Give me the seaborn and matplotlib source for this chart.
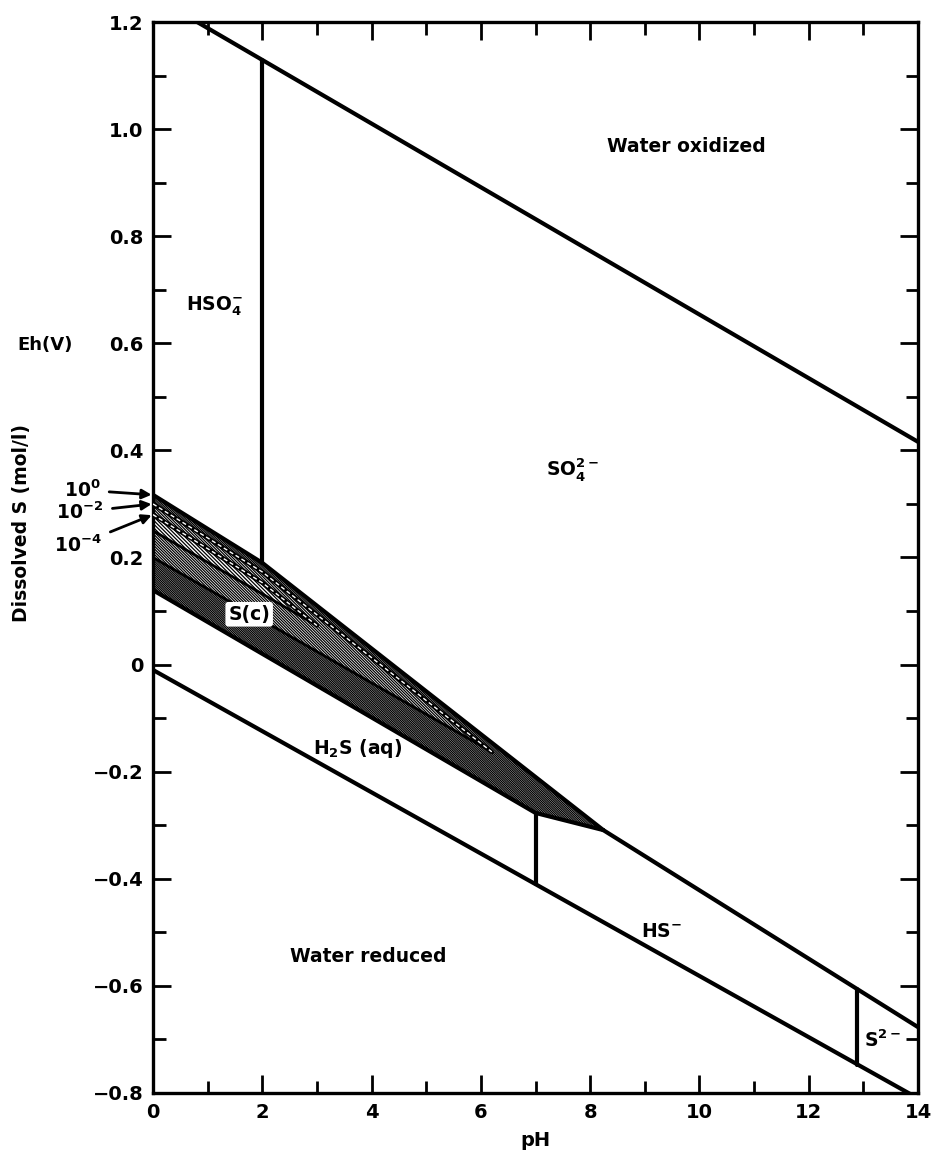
import matplotlib
matplotlib.use("Agg")
import matplotlib.pyplot as plt
import seaborn as sns

# water stability limits
UPPER_WATER_PH = [0.0, 14.0]
UPPER_WATER_EH = [1.248, 0.416]
LOWER_WATER_PH = [0.0, 14.0]
LOWER_WATER_EH = [-0.010, -0.810]

# boundaries between aqueous sulfur species
HSO4_SO4_PH = [2.0, 2.0]
HSO4_SO4_EH = [0.190, 1.129]
H2S_HS_PH = [7.0, 7.0]
H2S_HS_EH = [-0.410, -0.277]
HS_S2_PH = [12.88, 12.88]
HS_S2_EH = [-0.747, -0.605]
SO4_HS_PH = [8.24, 14.0]
SO4_HS_EH = [-0.309, -0.677]

# S(c) field for dissolved S = 10^0, 10^-2, 10^-4 mol/l
SC0_TOP_PH = [0.0, 2.0, 8.24]
SC0_TOP_EH = [0.317, 0.190, -0.309]
SC0_BOT_PH = [0.0, 7.0, 8.24]
SC0_BOT_EH = [0.139, -0.277, -0.309]
SC2_TOP_PH = [0.0, 2.0, 6.2]
SC2_TOP_EH = [0.300, 0.173, -0.163]
SC2_BOT_PH = [0.0, 6.2]
SC2_BOT_EH = [0.200, -0.163]
SC4_TOP_PH = [0.0, 2.0, 3.0]
SC4_TOP_EH = [0.280, 0.153, 0.073]
SC4_BOT_PH = [0.0, 3.0]
SC4_BOT_EH = [0.250, 0.073]

FIELD_LABELS = ["Water oxidized", "HSO$_4^{-}$", "SO$_4^{2-}$", "S(c)",
                "H$_2$S (aq)", "HS$^{-}$", "S$^{2-}$", "Water reduced"]
FIELD_PH = [9.77, 1.13, 7.67, 1.76, 3.74, 9.31, 13.36, 3.94]
FIELD_EH = [0.967, 0.670, 0.365, 0.094, -0.156, -0.499, -0.701, -0.546]

CONC_LABELS = ["10$^{0}$", "10$^{-2}$", "10$^{-4}$"]
CONC_EH = [0.317, 0.300, 0.280]

X_TICKS = [0, 2, 4, 6, 8, 10, 12, 14]
Y_TICKS = [-0.8, -0.6, -0.4, -0.2, 0.0, 0.2, 0.4, 0.6, 0.8, 1.0, 1.2]
Y_TICK_LABELS = ["\u22120.8", "\u22120.6", "\u22120.4", "\u22120.2", "0",
                 "0.2", "0.4", "0.6", "0.8", "1.0", "1.2"]

W, H = 931, 1153


def polygon(top_ph, top_eh, bot_ph, bot_eh):
    return top_ph + bot_ph[::-1], top_eh + bot_eh[::-1]


def main():
    sns.set_theme(style="ticks")
    plt.rcParams["font.family"] = ["DejaVu Sans"]
    plt.rcParams["font.weight"] = "bold"
    plt.rcParams["text.color"] = "black"
    plt.rcParams["axes.labelcolor"] = "black"
    plt.rcParams["mathtext.fontset"] = "dejavusans"
    plt.rcParams["mathtext.default"] = "bf"
    plt.rcParams["hatch.linewidth"] = 0.9

    fig = plt.figure(figsize=(W / 100, H / 100), dpi=100)
    ax = fig.add_axes([153 / W, 1 - 1093 / H, (918 - 153) / W, (1093 - 22) / H])

    # hatched S(c) fields, densest where only 10^0 is stable
    for (tp, te, bp, be), hatch in [
        ((SC0_TOP_PH, SC0_TOP_EH, SC0_BOT_PH, SC0_BOT_EH), "\\" * 15),
        ((SC2_TOP_PH, SC2_TOP_EH, SC2_BOT_PH, SC2_BOT_EH), "\\" * 12),
        ((SC4_TOP_PH, SC4_TOP_EH, SC4_BOT_PH, SC4_BOT_EH), "\\" * 9),
    ]:
        px, py = polygon(tp, te, bp, be)
        ax.fill(px, py, facecolor="white", edgecolor="black", hatch=hatch,
                linewidth=0, zorder=1)

    line_kw = dict(ax=ax, color="black", sort=False, estimator=None, legend=False)
    for xs, ys in [(UPPER_WATER_PH, UPPER_WATER_EH), (LOWER_WATER_PH, LOWER_WATER_EH),
                   (HSO4_SO4_PH, HSO4_SO4_EH), (H2S_HS_PH, H2S_HS_EH),
                   (HS_S2_PH, HS_S2_EH), (SO4_HS_PH, SO4_HS_EH),
                   (SC0_TOP_PH, SC0_TOP_EH), (SC0_BOT_PH, SC0_BOT_EH)]:
        sns.lineplot(x=xs, y=ys, linewidth=3.0, zorder=3, **line_kw)

    # inner boundaries for the lower concentrations
    for xs, ys in [(SC2_TOP_PH, SC2_TOP_EH), (SC4_TOP_PH, SC4_TOP_EH)]:
        sns.lineplot(x=xs, y=ys, linewidth=3.2, zorder=3, **line_kw)
        ax.plot(xs, ys, color="white", linewidth=1.0, dashes=(3, 2), zorder=4)
    for xs, ys in [(SC2_BOT_PH, SC2_BOT_EH), (SC4_BOT_PH, SC4_BOT_EH)]:
        sns.lineplot(x=xs, y=ys, linewidth=2.0, zorder=3, **line_kw)

    for text, ph, eh in zip(FIELD_LABELS, FIELD_PH, FIELD_EH):
        kw = {}
        if text == "S(c)":
            kw["bbox"] = dict(boxstyle="round,pad=0.15", facecolor="white",
                              edgecolor="none")
        ax.text(ph, eh, text, ha="center", va="center", fontsize=13.5,
                fontweight="bold", color="black", zorder=5, **kw)

    ax.set_xlim(0, 14)
    ax.set_ylim(-0.8, 1.2)
    ax.set_xticks(X_TICKS)
    ax.set_xticklabels([str(t) for t in X_TICKS])
    ax.set_xticks(range(0, 15), minor=True)
    ax.set_yticks(Y_TICKS)
    ax.set_yticklabels(Y_TICK_LABELS)
    ax.set_yticks([v / 10 for v in range(-8, 13)], minor=True)
    ax.tick_params(which="both", direction="in", top=True, right=True,
                   width=2.0, labelsize=14, pad=7, colors="black")
    ax.tick_params(which="major", length=13)
    ax.tick_params(which="minor", length=9)
    for s in ax.spines.values():
        s.set_linewidth(2.4)
        s.set_color("black")
    for lab in ax.get_xticklabels() + ax.get_yticklabels():
        lab.set_fontweight("bold")

    ax.set_xlabel("pH", fontsize=14, fontweight="bold", labelpad=7)
    ax.set_ylabel("")
    fig.text(45 / W, 1 - 345 / H, "Eh(V)", ha="center", va="center",
             fontsize=13, fontweight="bold")
    fig.text(22 / W, 1 - 523 / H, "Dissolved S (mol/l)", ha="center", va="center",
             rotation=90, fontsize=13.5, fontweight="bold")

    # concentration labels pointing at the S(c) upper boundaries
    text_pos = [(82, 490), (80, 512), (78, 545)]
    for text, eh, (tx, ty) in zip(CONC_LABELS, CONC_EH, text_pos):
        ax.annotate(text, xy=(0, eh), xycoords="data",
                    xytext=(tx / W, 1 - ty / H), textcoords="figure fraction",
                    ha="center", va="center", fontsize=13.5, fontweight="bold",
                    annotation_clip=False,
                    arrowprops=dict(arrowstyle="-|>", color="black", lw=2,
                                    shrinkA=4, shrinkB=1, mutation_scale=14))

    fig.savefig("out.png", dpi=100)
    plt.close(fig)


if __name__ == "__main__":
    main()
